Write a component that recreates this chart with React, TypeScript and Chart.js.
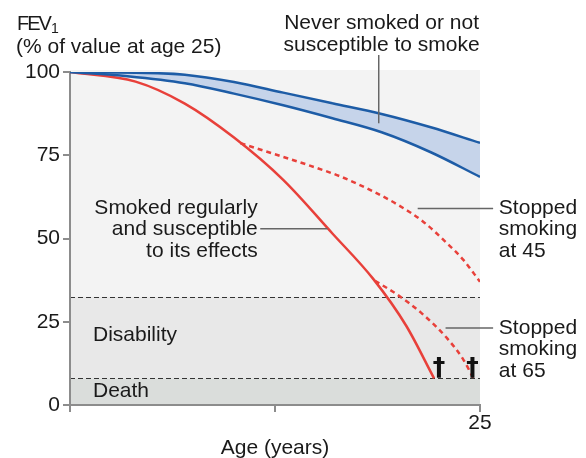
import React, { useEffect, useRef } from 'react';
import { Chart, registerables } from 'chart.js';

Chart.register(...registerables);

// ---- data (x = years after age 25, y = FEV1 % of value at age 25) ----
const X_TICKS = [0, 25, 50];
const X_TICK_LABELS = ['', '', '25'];
const Y_MIN = 0;
const Y_MAX = 100;
const Y_STEP = 25;

const neverUpper = [
  { x: 0, y: 100 }, { x: 8, y: 99.8 }, { x: 14, y: 99.2 }, { x: 20, y: 97 },
  { x: 26, y: 93.8 }, { x: 32, y: 90.6 }, { x: 38, y: 87.4 }, { x: 44, y: 83.4 },
  { x: 50, y: 78.7 },
];
const neverLower = [
  { x: 0, y: 100 }, { x: 7, y: 98.7 }, { x: 14, y: 96.6 }, { x: 20, y: 93.5 },
  { x: 26, y: 90 }, { x: 32, y: 86.1 }, { x: 38, y: 81.9 }, { x: 44, y: 75.9 },
  { x: 50, y: 68.5 },
];
const smokedRegularly = [
  { x: 0, y: 100 }, { x: 8, y: 97.1 }, { x: 14, y: 90.5 }, { x: 20, y: 80.3 },
  { x: 26, y: 67.6 }, { x: 32, y: 51.5 }, { x: 37, y: 37.8 }, { x: 41, y: 23.8 },
  { x: 44.4, y: 8 },
];
const stoppedAt45 = [
  { x: 20.8, y: 78.6 }, { x: 25, y: 75.3 }, { x: 29, y: 72.1 }, { x: 33, y: 68.6 },
  { x: 37, y: 64.1 }, { x: 40, y: 60.1 }, { x: 43, y: 55.2 }, { x: 46, y: 48.5 },
  { x: 48, y: 43.5 }, { x: 50, y: 37 },
];
const stoppedAt65 = [
  { x: 37.2, y: 37.3 }, { x: 40, y: 33 }, { x: 43, y: 27.3 }, { x: 46, y: 20 },
  { x: 48, y: 13.5 }, { x: 49.2, y: 8 },
];

// zone boundaries (FEV1 %)
const DISABILITY_LEVEL = 32.5;
const DEATH_LEVEL = 8;
// death markers (x = years, y = FEV1 %)
const deathMarkers = [
  { x: 45, y: 11 },
  { x: 49.1, y: 11 },
];
// leader lines in data units
const leaders = [
  { x1: 37.65, y1: 105.1, x2: 37.65, y2: 84.6 },
  { x1: 23.2, y1: 52.9, x2: 31.4, y2: 52.9 },
  { x1: 42.4, y1: 59.0, x2: 51.6, y2: 59.0 },
  { x1: 45.8, y1: 23.1, x2: 51.6, y2: 23.1 },
];
// text labels in data units
const labels = [
  { lines: ['Never smoked or not', 'susceptible to smoke'], x: 38.0, y: 114.6, align: 'center' },
  { lines: ['Smoked regularly', 'and susceptible', 'to its effects'], x: 22.9, y: 59.2, align: 'right' },
  { lines: ['Disability'], x: 2.8, y: 20.9, align: 'left' },
  { lines: ['Death'], x: 2.8, y: 4.2, align: 'left' },
  { lines: ['Stopped', 'smoking', 'at 45'], x: 52.3, y: 59.2, align: 'left' },
  { lines: ['Stopped', 'smoking', 'at 65'], x: 52.3, y: 23.1, align: 'left' },
];

const FONT = '"Liberation Sans", Arial, Helvetica, sans-serif';
const TEXT = '#1a1a1a';
const AXIS = '#8c8c8c';
const RED = '#e8403a';
const BLUE = '#1d5ca6';
const BAND = '#c6d4ea';

const decorPlugin = {
  id: 'decor',
  beforeDraw(chart: any) {
    const { ctx, chartArea, scales } = chart;
    const y = scales.y;
    const l = chartArea.left;
    const w = chartArea.right - l;
    const yTop = y.getPixelForValue(Y_MAX) - 2;
    const yDis = y.getPixelForValue(DISABILITY_LEVEL);
    const yDeath = y.getPixelForValue(DEATH_LEVEL);
    const yBot = y.getPixelForValue(Y_MIN);
    ctx.save();
    ctx.fillStyle = '#f3f3f3';
    ctx.fillRect(l, yTop, w, yDis - yTop);
    ctx.fillStyle = '#e8e8e8';
    ctx.fillRect(l, yDis, w, yDeath - yDis);
    ctx.fillStyle = '#dadddb';
    ctx.fillRect(l, yDeath, w, yBot - yDeath);
    ctx.strokeStyle = '#333';
    ctx.lineWidth = 1;
    ctx.setLineDash([5, 3]);
    [yDis, yDeath].forEach((py) => {
      ctx.beginPath();
      ctx.moveTo(l, Math.round(py) + 0.5);
      ctx.lineTo(chartArea.right, Math.round(py) + 0.5);
      ctx.stroke();
    });
    ctx.restore();
  },
  afterDraw(chart: any) {
    const { ctx, scales } = chart;
    const x = scales.x;
    const y = scales.y;
    ctx.save();
    // leader lines
    ctx.strokeStyle = '#666';
    ctx.lineWidth = 1.5;
    leaders.forEach((s) => {
      ctx.beginPath();
      ctx.moveTo(x.getPixelForValue(s.x1), y.getPixelForValue(s.y1));
      ctx.lineTo(x.getPixelForValue(s.x2), y.getPixelForValue(s.y2));
      ctx.stroke();
    });
    // labels
    ctx.fillStyle = TEXT;
    ctx.font = `21px ${FONT}`;
    ctx.textBaseline = 'middle';
    labels.forEach((lab) => {
      ctx.textAlign = lab.align as CanvasTextAlign;
      const px = x.getPixelForValue(lab.x);
      const py = y.getPixelForValue(lab.y);
      lab.lines.forEach((t, i) => ctx.fillText(t, px, py + i * 21.5));
    });
    // death markers
    ctx.font = `bold 25px "DejaVu Sans", ${FONT}`;
    ctx.textAlign = 'center';
    ctx.fillStyle = '#111';
    deathMarkers.forEach((m) => {
      ctx.fillText('\u2020', x.getPixelForValue(m.x), y.getPixelForValue(m.y));
    });
    // y-axis title
    ctx.fillStyle = TEXT;
    ctx.textAlign = 'left';
    ctx.font = `20px ${FONT}`;
    (ctx as any).letterSpacing = '-2px';
    ctx.fillText('FEV', 17, 24);
    const wF = ctx.measureText('FEV').width;
    (ctx as any).letterSpacing = '0px';
    ctx.font = `14px ${FONT}`;
    ctx.fillText('1', 17 + wF + 1, 29);
    ctx.font = `21px ${FONT}`;
    ctx.fillText('(% of value at age 25)', 16, 47);
    ctx.restore();
  },
};

export default function App() {
  const ref = useRef<HTMLCanvasElement>(null);
  useEffect(() => {
    if (!ref.current) return;
    const ds = (label: string, data: any[], color: string, dash: number[], extra: any = {}) => ({
      label,
      data,
      borderColor: color,
      borderWidth: 2.5,
      borderDash: dash,
      pointRadius: 0,
      cubicInterpolationMode: 'monotone',
      fill: false,
      ...extra,
    });
    const chart = new Chart(ref.current, {
      type: 'line',
      data: {
        datasets: [
          ds('Never smoked (upper)', neverUpper, BLUE, [], { fill: '+1', backgroundColor: BAND }),
          ds('Never smoked (lower)', neverLower, BLUE, []),
          ds('Smoked regularly', smokedRegularly, RED, []),
          ds('Stopped at 45', stoppedAt45, RED, [5, 4]),
          ds('Stopped at 65', stoppedAt65, RED, [5, 4]),
        ],
      },
      options: {
        responsive: false,
        animation: false,
        layout: { padding: { top: 72, right: 106, left: 0, bottom: 0 } },
        plugins: {
          legend: { display: false },
          tooltip: { enabled: false },
          filler: { drawTime: 'beforeDatasetsDraw' },
        },
        scales: {
          x: {
            type: 'linear',
            min: X_TICKS[0],
            max: X_TICKS[X_TICKS.length - 1],
            afterBuildTicks: (s: any) => {
              s.ticks = X_TICKS.map((v) => ({ value: v }));
            },
            afterFit: (s: any) => {
              s.height = 53;
            },
            ticks: {
              callback: (_v: any, i: number) => X_TICK_LABELS[i],
              color: TEXT,
              padding: 1,
              maxRotation: 0,
              autoSkip: false,
              font: { family: FONT, size: 21, lineHeight: 1 },
            },
            grid: { drawOnChartArea: false, drawTicks: true, tickLength: 7, color: AXIS, lineWidth: 2 },
            border: { color: AXIS, width: 2 },
            title: {
              display: true,
              text: 'Age (years)',
              color: TEXT,
              padding: { top: 0, bottom: 0 },
              font: { family: FONT, size: 21, lineHeight: '20px' as any },
            },
          },
          y: {
            min: Y_MIN,
            max: Y_MAX,
            afterFit: (s: any) => {
              s.width = 70;
            },
            ticks: {
              stepSize: Y_STEP,
              color: TEXT,
              padding: 3,
              font: { family: FONT, size: 21 },
            },
            grid: { drawOnChartArea: false, drawTicks: true, tickLength: 7, color: AXIS, lineWidth: 2 },
            border: { color: AXIS, width: 2 },
          },
        },
      },
      plugins: [decorPlugin],
    } as any);
    return () => chart.destroy();
  }, []);
  return (
    <div style={{ position: 'absolute', left: 0, top: 0, width: 586, height: 458, background: '#fff' }}>
      <canvas ref={ref} width={586} height={458} />
    </div>
  );
}
